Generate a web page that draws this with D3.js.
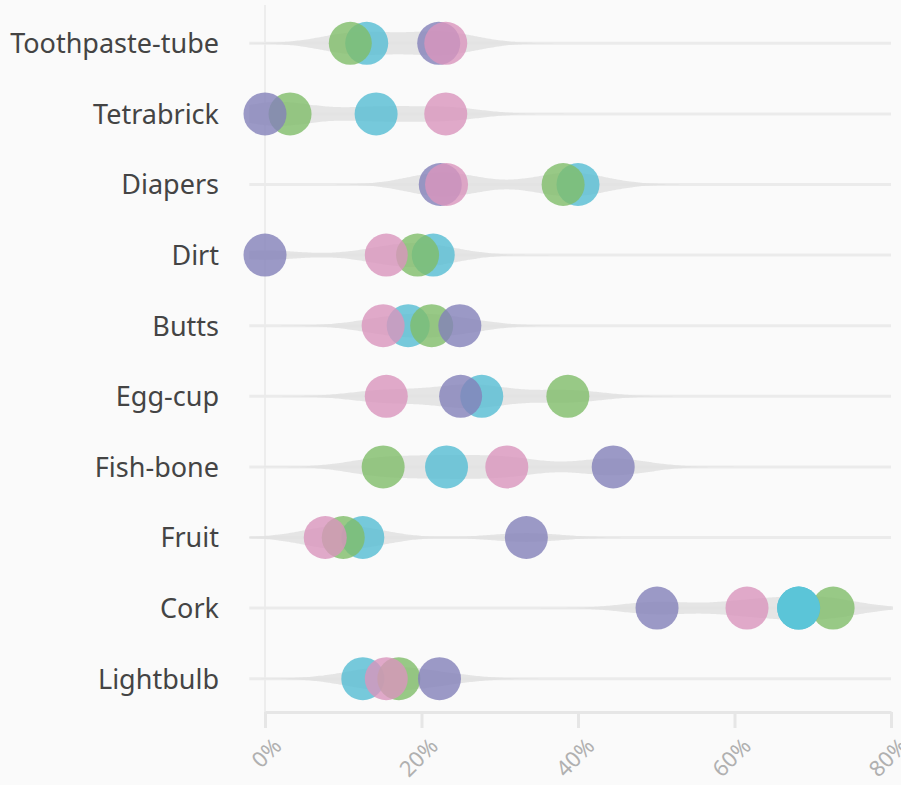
<!DOCTYPE html>
<html>
<head>
<meta charset="utf-8">
<script src="https://cdn.jsdelivr.net/npm/d3@7"></script>
<style>
  html, body { margin: 0; padding: 0; background: #fafafa; }
  svg { display: block; }
</style>
</head>
<body>
<svg id="chart" width="901" height="785"></svg>
<script>
// ---- data ----
const categories = ["Toothpaste-tube", "Tetrabrick", "Diapers", "Dirt", "Butts",
                    "Egg-cup", "Fish-bone", "Fruit", "Cork", "Lightbulb"];
const seriesNames = ["cyan", "green", "purple", "pink"];
const cyanValues   = [13.0, 14.2, 40.0, 21.5, 18.3, 27.7, 23.2, 12.5, 68.2, 12.5];
const greenValues  = [10.9,  3.2, 38.1, 19.5, 21.3, 38.7, 15.1, 10.0, 72.6, 17.1];
const purpleValues = [22.2,  0.0, 22.4,  0.0, 24.9, 25.0, 44.5, 33.4, 50.1, 22.3];
const pinkValues   = [23.1, 23.1, 23.2, 15.5, 15.1, 15.5, 30.9,  7.7, 61.6, 15.5];
const xTicks = [0, 20, 40, 60, 80];
const highlighted = { series: "cyan", category: "Cork" };

const seriesValues = { cyan: cyanValues, green: greenValues, purple: purpleValues, pink: pinkValues };
const colors = { cyan: "#55bdd3", green: "#80bd69", purple: "#8381b9", pink: "#da95bd" };

// ---- layout ----
const svg = d3.select("#chart");
const x = d3.scaleLinear().domain([0, 80]).range([265, 891]);
const y = d3.scaleBand().domain(categories).range([8, 714]).padding(0);
const yc = c => y(c) + y.bandwidth() / 2;
const r = 21.5;
const fontFamily = "'Noto Sans', 'Open Sans', sans-serif";

// vertical line at 0
svg.append("line")
  .attr("x1", x(0)).attr("x2", x(0))
  .attr("y1", 5).attr("y2", 712)
  .attr("stroke", "#ededed").attr("stroke-width", 2);

// row grid lines
svg.append("g").selectAll("line").data(categories).join("line")
  .attr("x1", x(-2)).attr("x2", x(80))
  .attr("y1", yc).attr("y2", yc)
  .attr("stroke", "#ebebeb").attr("stroke-width", 3);

// violins (KDE of each row's values)
function kde(vals, bw, grid) {
  return grid.map(g => [g, d3.mean(vals, v => Math.exp(-0.5 * ((g - v) / bw) ** 2))]);
}
const grid = d3.range(-2, 80.31, 0.25);
const violinG = svg.append("g");
categories.forEach((c, i) => {
  const vals = seriesNames.map(s => seriesValues[s][i]);
  const dens = kde(vals, 4.5, grid);
  const maxD = d3.max(dens, d => d[1]);
  const h = d3.scaleLinear().domain([0, maxD]).range([0, 12]);
  const area = d3.area()
    .x(d => x(d[0]))
    .y0(d => yc(c) - h(d[1]))
    .y1(d => yc(c) + h(d[1]))
    .curve(d3.curveBasis);
  violinG.append("path").datum(dens).attr("d", area)
    .attr("fill", "#e2e2e2").attr("opacity", 0.9);
});

// circles
const circleG = svg.append("g");
seriesNames.forEach(s => {
  circleG.append("g").selectAll("circle").data(categories).join("circle")
    .attr("cx", (c, i) => x(seriesValues[s][i]))
    .attr("cy", c => yc(c))
    .attr("r", r)
    .attr("fill", colors[s])
    .attr("fill-opacity", c => (s === highlighted.series && c === highlighted.category) ? 1 : 0.8);
});
// highlighted on top
circleG.append("circle")
  .attr("cx", x(seriesValues[highlighted.series][categories.indexOf(highlighted.category)]))
  .attr("cy", yc(highlighted.category))
  .attr("r", r)
  .attr("fill", "#5bc5d8");

// y labels
svg.append("g").selectAll("text").data(categories).join("text")
  .attr("x", 219).attr("y", yc).attr("dy", "0.37em")
  .attr("text-anchor", "end")
  .attr("font-family", fontFamily)
  .attr("font-size", 27)
  .attr("fill", "#444444")
  .text(d => d);

// x axis
const axisY = 712;
const xAxis = d3.axisBottom(x).tickValues(xTicks).tickFormat(d => d + "%").tickSize(16).tickSizeOuter(0);
const ax = svg.append("g").attr("transform", `translate(0,${axisY})`).call(xAxis);
ax.select(".domain").attr("stroke", "#e6e6e6").attr("stroke-width", 3);
ax.selectAll(".tick line").attr("stroke", "#e6e6e6").attr("stroke-width", 3);
ax.selectAll(".tick text")
  .attr("font-family", fontFamily)
  .attr("font-size", 22)
  .attr("fill", "#b0b0b0")
  .attr("text-anchor", "end")
  .attr("transform", "translate(12,30) rotate(-45)")
  .attr("dy", "0.35em")
  .attr("y", 0).attr("x", 0);
</script>
</body>
</html>
